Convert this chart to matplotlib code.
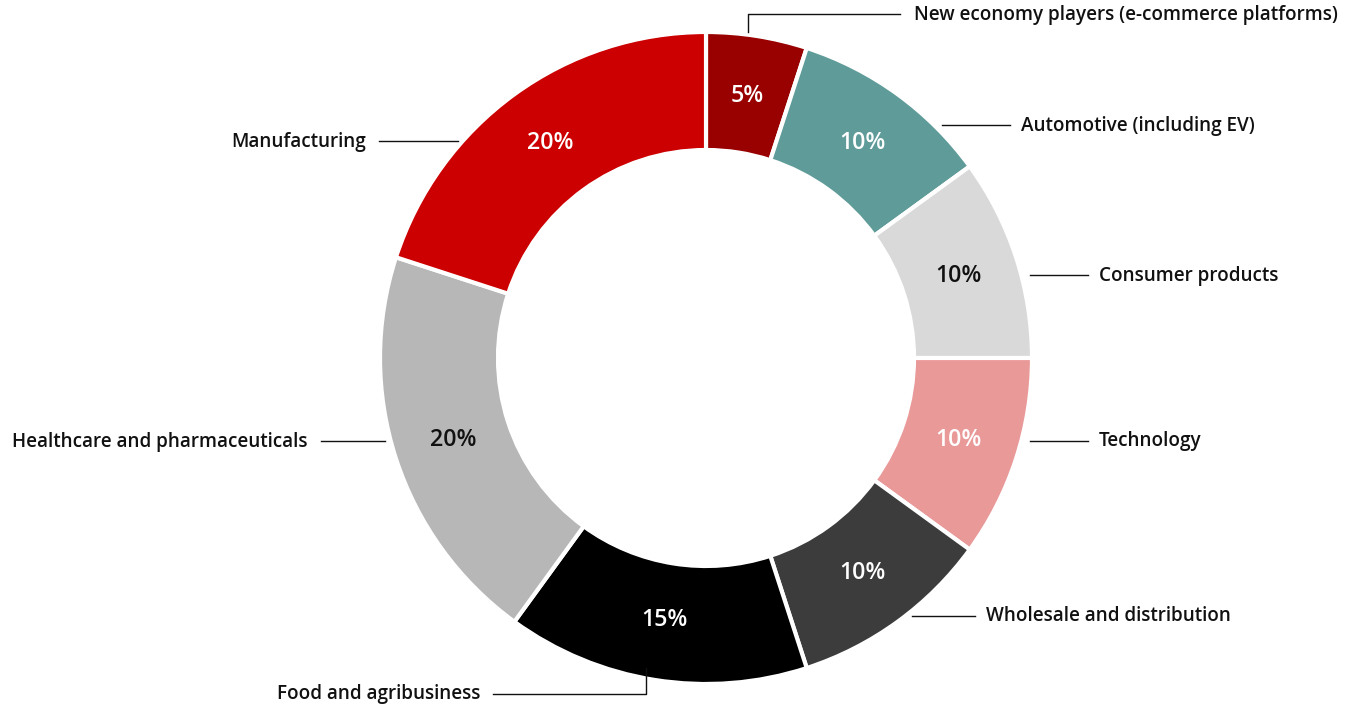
import matplotlib.pyplot as plt

sectors = ["New economy players (e-commerce platforms)", "Automotive (including EV)",
           "Consumer products", "Technology", "Wholesale and distribution",
           "Food and agribusiness", "Healthcare and pharmaceuticals", "Manufacturing"]
shares = [5, 10, 10, 10, 10, 15, 20, 20]
colors = ["#990000", "#5f9c99", "#d9d9d9", "#ea9999", "#3c3c3c", "#000000", "#b7b7b7", "#cc0000"]
pct_colors = ["white", "white", "#111111", "white", "white", "white", "#111111", "white"]

plt.rcParams['font.family'] = ['Open Sans', 'DejaVu Sans']

W, H = 1349, 708
fig = plt.figure(figsize=(W / 100, H / 100), dpi=100)
ax = fig.add_axes([0, 0, 1, 1])
ax.set_xlim(0, W)
ax.set_ylim(0, H)
ax.axis("off")

cx, cy = 706, H - 358
wedges, texts, autotexts = ax.pie(shares, colors=colors, center=(cx, cy), radius=326,
                                  startangle=90, counterclock=False,
                                  autopct="%d%%", pctdistance=0.815,
                                  wedgeprops=dict(width=118, edgecolor="white", linewidth=3))
for t, c in zip(autotexts, pct_colors):
    t.set_color(c)
    t.set_fontsize(16.7)
    t.set_fontweight("semibold")
ax.set_xlim(0, W)
ax.set_ylim(0, H)
ax.set_aspect("auto")

# leader lines (pixel coords, y from top) and label anchors
leaders = [
    ([748, 748, 900], [32, 14, 14], 914, 15, "left"),
    ([942, 1010], [125, 125], 1021, 126, "left"),
    ([1030, 1088], [275, 275], 1099, 276, "left"),
    ([1030, 1088], [441, 441], 1099, 441, "left"),
    ([912, 975], [616, 616], 986, 616, "left"),
    ([646, 646, 493], [668, 694, 694], 480, 694, "right"),
    ([385, 321], [441, 441], 308, 442, "right"),
    ([458, 379], [141, 141], 366, 142, "right"),
]
for name, (xs, ys, tx, ty, ha) in zip(sectors, leaders):
    ax.plot(xs, [H - y for y in ys], color="#111111", lw=1)
    ax.text(tx, H - ty, name, ha=ha, va="center", fontsize=13.6,
            fontweight="semibold", color="#111111")

fig.savefig("out.png", dpi=100)
